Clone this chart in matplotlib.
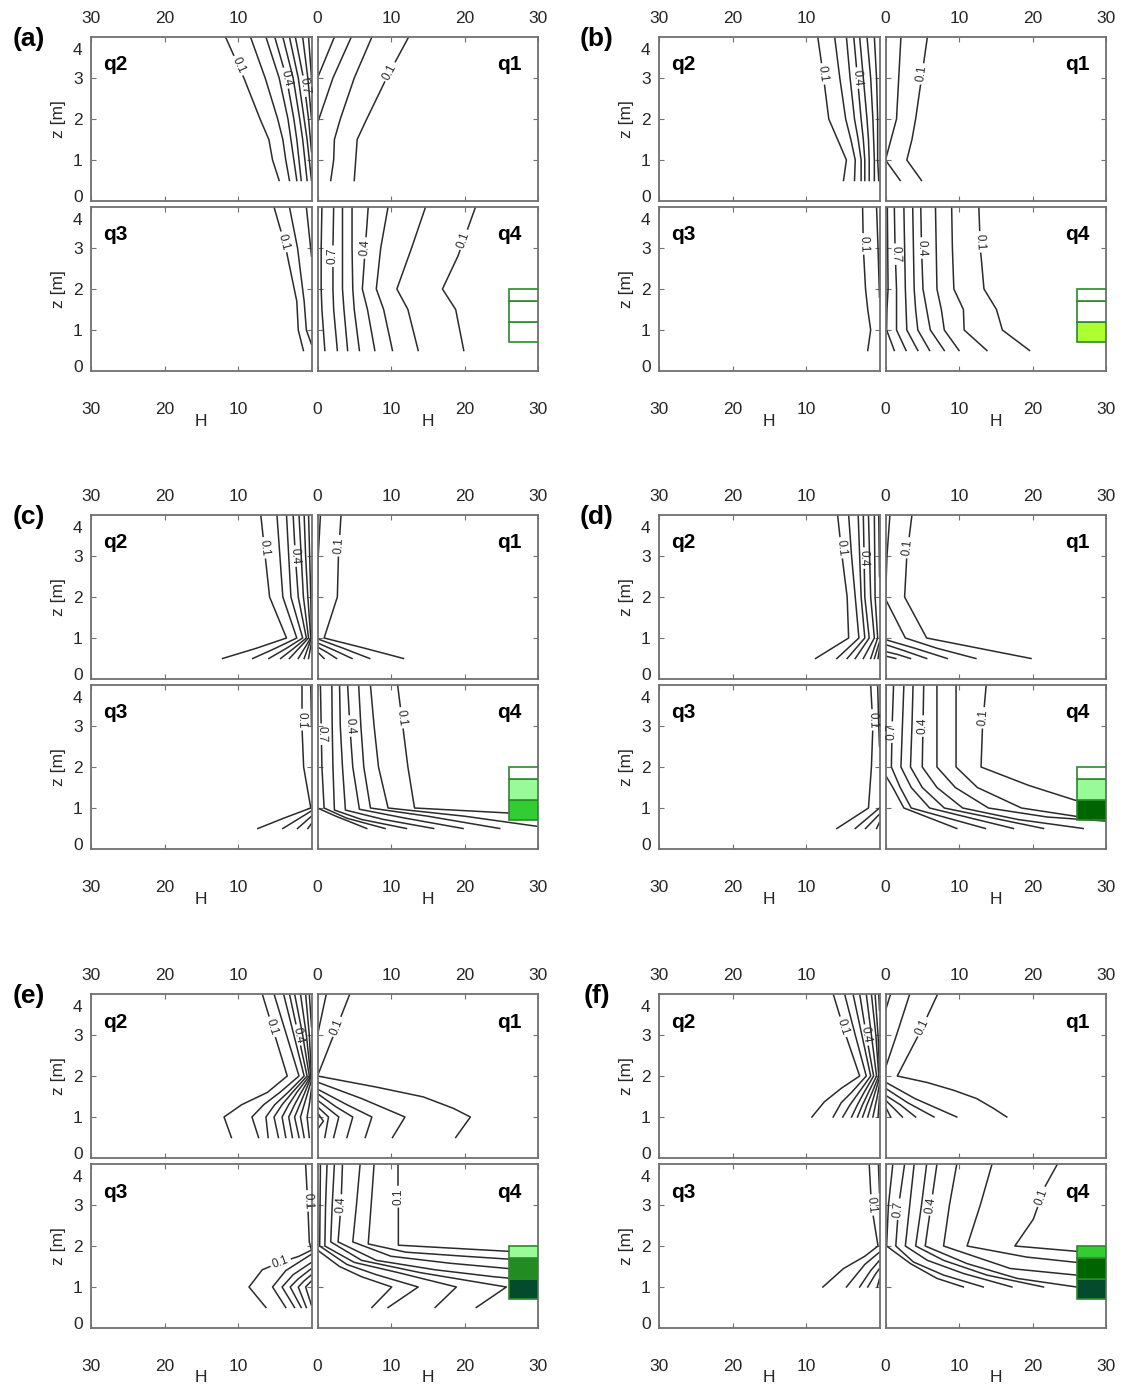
import numpy as np
import matplotlib
matplotlib.use("Agg")
import matplotlib.pyplot as plt
from matplotlib.patches import Rectangle

plt.rcParams['font.family'] = ['Liberation Sans', 'DejaVu Sans']

# contour lines of each quadrant, as (H, z) vertices
# levels go 0.1 (outermost) ... 0.9 (innermost)

# ---- panel (a)
A_Q2 = [
    [(11.7, 4), (9.2, 3), (7.0, 2), (5.8, 1.5), (5.3, 1), (4.4, 0.5)],
    [(8.3, 4), (6.3, 3), (4.6, 2), (3.9, 1.5), (3.5, 1), (3.0, 0.5)],
    [(6.2, 4), (4.4, 3), (3.2, 2), (2.8, 1.5), (2.4, 1), (2.0, 0.5)],
    [(5.0, 4), (3.4, 3), (2.4, 2), (2.0, 1.5), (1.7, 1), (1.4, 0.5)],
    [(3.9, 4), (2.5, 3), (1.6, 2), (1.2, 1.5), (0.9, 1), (0.6, 0.5)],
    [(3.0, 4), (1.8, 3), (1.0, 2), (0.6, 1.5), (0.3, 1), (0.0, 0.5)],
    [(2.2, 4), (1.1, 3), (0.4, 2), (0.0, 1.2)],
    [(1.2, 4), (0.5, 3), (0.0, 2)],
    [(0.4, 4), (0.0, 3)],
]
A_Q1 = [
    [(12.4, 4), (9.4, 3), (6.7, 2), (5.4, 1.5), (5.2, 1), (5.0, 0.5)],
    [(7.4, 4), (5.0, 3), (3.1, 2), (2.3, 1.5), (2.2, 1), (1.8, 0.5)],
    [(4.6, 4), (2.1, 3), (0.0, 1.9)],
    [(2.3, 4), (0.0, 3.0)],
]
A_Q3 = [
    [(5.1, 4), (3.5, 3), (2.0, 1.7), (1.8, 1.0), (1.1, 0.5)],
    [(3.0, 4), (1.9, 3), (1.0, 1.7), (0.7, 1.0), (0.0, 0.65)],
    [(0.7, 4), (0.0, 2.8)],
]
A_Q4 = [
    [(21.5, 4), (20.3, 3.4), (19.1, 2.8), (17.0, 2), (18.8, 1.5), (19.9, 0.5)],
    [(14.7, 4), (12.8, 3), (10.8, 2), (12.3, 1.5), (13.7, 0.5)],
    [(9.6, 4), (8.6, 3), (8.0, 2), (9.0, 1.5), (10.2, 0.5)],
    [(6.9, 4), (6.5, 3), (6.1, 2), (6.8, 1.5), (7.8, 0.5)],
    [(4.7, 4), (4.7, 3), (4.8, 2), (5.0, 1.5), (5.7, 0.5)],
    [(3.4, 4), (3.4, 3), (3.4, 2), (3.6, 1.5), (4.1, 0.5)],
    [(2.2, 4), (2.1, 3), (2.1, 2), (2.2, 1.5), (2.7, 0.5)],
    [(0.6, 4), (0.5, 3), (0.5, 2), (0.6, 1.5), (1.0, 0.5)],
]
LAB_A = {'q2': [(0, '0.1', 3.3), (3, '0.4', 3.0), (6, '0.7', 2.8)],
         'q1': [(0, '0.1', 3.15)],
         'q3': [(0, '0.1', 3.15)],
         'q4': [(0, '0.1', 3.2), (3, '0.4', 3.0), (6, '0.7', 2.8)]}
BOX_A = ['white', 'white', 'white']

# ---- panel (b)
B_Q2 = [
    [(8.4, 4), (7.6, 3), (6.9, 2), (5.7, 1.5), (4.5, 1), (4.9, 0.5)],
    [(6.1, 4), (5.4, 3), (4.6, 2), (3.9, 1.5), (3.3, 1), (3.4, 0.5)],
    [(4.5, 4), (4.0, 3), (3.4, 2), (2.9, 1.5), (2.5, 1), (2.5, 0.5)],
    [(3.5, 4), (3.0, 3), (2.5, 2), (2.2, 1.5), (2.0, 1), (2.0, 0.5)],
    [(2.7, 4), (2.2, 3), (1.7, 2), (1.5, 1.5), (1.4, 1), (1.4, 0.5)],
    [(1.7, 4), (1.2, 3), (0.9, 2), (0.8, 1.5), (0.7, 1), (0.7, 0.5)],
    [(0.7, 4), (0.4, 3), (0.25, 2), (0.25, 1), (0.1, 0.5)],
]
B_Q1 = [
    [(5.7, 4), (4.9, 3), (4.1, 2), (3.6, 1.5), (2.9, 1), (4.9, 0.5)],
    [(2.1, 4), (1.8, 3), (1.5, 2), (0.6, 1.4), (0.0, 1), (2.0, 0.5)],
]
B_Q3 = [
    [(2.3, 4), (2.2, 3), (1.9, 2), (1.6, 1.5), (1.2, 1), (1.6, 0.5)],
    [(0.4, 4), (0.2, 3), (0.0, 1.8)],
]
B_Q4 = [
    [(12.7, 4), (12.9, 3), (13.4, 2), (15.1, 1.5), (15.9, 1), (19.6, 0.5)],
    [(9.0, 4), (9.1, 3), (9.3, 2), (10.6, 1.5), (10.7, 1), (13.8, 0.5)],
    [(6.8, 4), (6.9, 3), (7.0, 2), (7.6, 1.5), (8.0, 1), (10.0, 0.5)],
    [(4.8, 4), (4.9, 3), (5.1, 2), (5.6, 1.5), (6.1, 1), (8.0, 0.5)],
    [(3.7, 4), (3.8, 3), (3.9, 2), (4.1, 1.5), (4.4, 1), (6.0, 0.5)],
    [(2.5, 4), (2.6, 3), (2.7, 2), (2.8, 1.5), (2.9, 1), (4.4, 0.5)],
    [(1.2, 4), (1.3, 3), (1.5, 2), (1.5, 1.5), (1.5, 1), (2.8, 0.5)],
    [(0.25, 4), (0.3, 3), (0.35, 2), (0.2, 1.5), (0.15, 1), (1.2, 0.5)],
]
LAB_B = {'q2': [(0, '0.1', 3.1), (3, '0.4', 3.0)],
         'q1': [(0, '0.1', 3.1)],
         'q3': [(0, '0.1', 3.1)],
         'q4': [(0, '0.1', 3.15), (3, '0.4', 3.0), (6, '0.7', 2.85)]}
BOX_B = ['#adff2f', 'white', 'white']

# ---- panel (c)
C_Q2 = [
    [(6.9, 4), (6.3, 3), (5.7, 2), (3.4, 1), (7.5, 0.75), (12.1, 0.5)],
    [(4.7, 4), (4.3, 3), (3.9, 2), (2.0, 1), (4.9, 0.75), (8.0, 0.5)],
    [(3.4, 4), (3.1, 3), (2.8, 2), (1.2, 1), (3.4, 0.75), (5.8, 0.5)],
    [(2.5, 4), (2.2, 3), (1.8, 2), (0.7, 1), (2.4, 0.75), (4.2, 0.5)],
    [(1.7, 4), (1.4, 3), (1.1, 2), (0.4, 1), (3.0, 0.5)],
    [(1.0, 4), (0.8, 3), (0.5, 2), (0.1, 1), (1.8, 0.5)],
    [(0.4, 4), (0.25, 3), (0.1, 2), (0.0, 1), (1.0, 0.5)],
    [(0.0, 0.9), (0.4, 0.5)],
]
C_Q1 = [
    [(3.2, 4), (2.85, 3), (2.7, 2), (0.9, 1), (6.0, 0.77), (11.7, 0.5)],
    [(0.4, 4), (0.1, 3), (0.0, 2.2)],
    [(0.0, 0.98), (3.5, 0.75), (7.1, 0.5)],
    [(0.0, 0.88), (2.3, 0.7), (4.7, 0.5)],
    [(0.0, 0.78), (1.3, 0.65), (2.6, 0.5)],
    [(0.0, 0.66), (0.9, 0.5)],
]
C_Q3 = [
    [(1.3, 4), (1.3, 3), (1.07, 2), (0.1, 1), (3.8, 0.75), (7.3, 0.5)],
    [(0.1, 4), (0.0, 3)],
    [(0.0, 0.93), (3.9, 0.5)],
    [(0.0, 0.8), (1.9, 0.5)],
    [(0.0, 0.62), (0.5, 0.5)],
]
C_Q4 = [
    [(10.9, 4), (11.6, 3), (12.3, 2), (13.2, 1), (30, 0.84)],
    [(7.2, 4), (7.7, 3), (8.3, 2), (9.6, 1), (20, 0.8), (30, 0.55)],
    [(5.6, 4), (5.9, 3), (6.3, 2), (7.2, 1), (15, 0.8), (24.8, 0.5)],
    [(4.1, 4), (4.4, 3), (4.8, 2), (5.7, 0.97), (12, 0.75), (19.8, 0.5)],
    [(3.0, 4), (3.1, 3), (3.4, 2), (3.8, 0.95), (9, 0.72), (15.8, 0.5)],
    [(1.95, 4), (2.0, 3), (2.1, 2), (2.3, 0.95), (6, 0.72), (12.1, 0.5)],
    [(0.4, 4), (0.5, 3), (0.6, 2), (0.9, 1.0), (4, 0.75), (9.2, 0.5)],
    [(0.0, 1.0), (2.5, 0.8), (6.7, 0.5)],
]
LAB_C = {'q2': [(0, '0.1', 3.2), (3, '0.4', 3.0)],
         'q1': [(0, '0.1', 3.25)],
         'q3': [(0, '0.1', 3.15)],
         'q4': [(0, '0.1', 3.2), (3, '0.4', 3.0), (6, '0.7', 2.8)]}
BOX_C = ['#32cd32', '#98fb98', 'white']

# ---- panel (d)
D_Q2 = [
    [(5.7, 4), (5.1, 3), (4.4, 2), (4.2, 1), (8.7, 0.5)],
    [(4.2, 4), (3.8, 3), (3.3, 2), (2.8, 1), (5.8, 0.5)],
    [(2.9, 4), (2.7, 3), (2.5, 2), (2.0, 1), (4.4, 0.5)],
    [(2.2, 4), (2.1, 3), (2.0, 2), (1.4, 1), (3.3, 0.5)],
    [(1.5, 4), (1.35, 3), (1.2, 2), (0.7, 1), (2.2, 0.5)],
    [(0.7, 4), (0.65, 3), (0.6, 2), (0.25, 1), (1.2, 0.5)],
    [(0.1, 4), (0.0, 2.5)],
    [(0.0, 0.9), (0.7, 0.5)],
    [(0.0, 0.75), (0.2, 0.5)],
]
D_Q1 = [
    [(3.6, 4), (2.9, 3), (2.6, 2), (5.6, 1), (14.4, 0.69), (19.8, 0.5)],
    [(0.6, 4), (0.2, 3), (0.0, 1.95), (2.7, 1.0), (7.0, 0.75), (12.3, 0.5)],
    [(0.0, 0.96), (4.0, 0.75), (8.4, 0.5)],
    [(0.0, 0.84), (2.7, 0.68), (5.6, 0.5)],
    [(0.0, 0.67), (1.6, 0.6), (3.4, 0.5)],
    [(0.0, 0.56), (1.4, 0.5)],
]
D_Q3 = [
    [(1.2, 4), (0.9, 3), (1.1, 2), (1.5, 1), (5.8, 0.5)],
    [(0.25, 4), (0.1, 3), (0.0, 2.5)],
    [(0.0, 1.0), (3.3, 0.5)],
    [(0.0, 0.85), (1.9, 0.5)],
    [(0.0, 0.65), (0.4, 0.5)],
]
D_Q4 = [
    [(13.7, 4), (13.2, 3), (13.0, 2), (19.5, 1.55), (25.8, 1.19), (30, 1.05)],
    [(9.6, 4), (9.6, 3), (9.6, 2), (12.5, 1.5), (18.5, 1.0), (25.8, 0.8), (30, 0.72)],
    [(7.0, 4), (7.0, 3), (7.0, 2), (9.5, 1.5), (14, 1.0), (22, 0.78), (30, 0.68)],
    [(5.2, 4), (5.1, 3), (5.0, 2), (7.0, 1.5), (10.5, 1.0), (18, 0.72), (26.9, 0.5)],
    [(3.75, 4), (3.6, 3), (3.4, 2), (5.0, 1.5), (8.0, 1.0), (21.5, 0.5)],
    [(2.5, 4), (2.3, 3), (2.1, 2), (3.5, 1.5), (6.0, 1.0), (17.4, 0.5)],
    [(1.1, 4), (0.9, 3), (0.8, 2), (2.0, 1.5), (3.5, 1.0), (13.6, 0.5)],
    [(0.1, 4), (0.0, 2.6)],
    [(0.0, 1.8), (1.0, 1.5), (2.5, 1.0), (9.7, 0.5)],
]
LAB_D = {'q2': [(0, '0.1', 3.2), (3, '0.4', 2.95)],
         'q1': [(0, '0.1', 3.2)],
         'q3': [(0, '0.1', 3.15)],
         'q4': [(0, '0.1', 3.2), (3, '0.4', 3.0), (6, '0.7', 2.85)]}
BOX_D = ['#006400', '#98fb98', 'white']

# ---- panel (e)
E_Q2 = [
    [(6.7, 4), (5.0, 3), (3.3, 2.0), (6.0, 1.6), (9.5, 1.3), (11.9, 1.0), (10.9, 0.5)],
    [(5.1, 4), (3.4, 3), (1.7, 2.0), (4.3, 1.6), (6.5, 1.3), (8.1, 1.0), (7.2, 0.5)],
    [(3.8, 4), (2.4, 3), (1.0, 2.0), (3.2, 1.6), (5.0, 1.3), (6.2, 1.0), (5.9, 0.5)],
    [(3.0, 4), (1.8, 3), (0.6, 2.0), (2.6, 1.6), (4.0, 1.3), (5.1, 1.0), (4.5, 0.5)],
    [(2.3, 4), (1.2, 3), (0.3, 2.0), (2.0, 1.6), (3.1, 1.3), (4.0, 1.0), (3.5, 0.5)],
    [(1.5, 4), (0.7, 3), (0.1, 2.0), (1.4, 1.6), (2.3, 1.3), (3.1, 1.0), (2.6, 0.5)],
    [(0.8, 4), (0.3, 3), (0.0, 2.0), (0.9, 1.6), (1.6, 1.3), (2.3, 1.0), (1.7, 0.5)],
    [(0.3, 4), (0.0, 3.2)],
    [(0.0, 1.9), (0.5, 1.6), (1.0, 1.3), (1.5, 1.0), (1.0, 0.5)],
    [(0.0, 1.7), (0.3, 1.3), (0.6, 1.0), (0.3, 0.5)],
]
E_Q1 = [
    [(4.4, 4), (2.2, 3), (0.0, 2.0)],
    [(1.2, 4), (0.0, 3.0)],
    [(0.0, 2.0), (8.0, 1.73), (14.4, 1.49), (18.5, 1.21), (20.8, 1.0), (18.8, 0.5)],
    [(0.0, 1.85), (6.0, 1.45), (11.9, 1.0), (10.2, 0.5)],
    [(0.0, 1.68), (4.0, 1.3), (7.4, 1.0), (6.5, 0.5)],
    [(0.0, 1.57), (2.5, 1.25), (4.8, 1.0), (4.0, 0.5)],
    [(0.0, 1.41), (1.5, 1.2), (2.9, 1.0), (2.2, 0.5)],
    [(0.0, 1.25), (1.5, 1.0), (1.0, 0.5)],
    [(0.0, 1.1), (0.8, 0.9), (0.0, 0.7)],
]
E_Q3 = [
    [(0.8, 4), (0.5, 3), (0.3, 2.1), (0.0, 1.9)],
    [(0.0, 1.9), (1.7, 1.75), (4.7, 1.57), (6.7, 1.42), (8.5, 1.0), (6.2, 0.5)],
    [(0.0, 1.8), (3.5, 1.4), (5.3, 1.0), (3.5, 0.5)],
    [(0.0, 1.6), (2.5, 1.3), (4.0, 1.0), (2.3, 0.5)],
    [(0.0, 1.45), (1.8, 1.2), (2.9, 1.0), (1.4, 0.5)],
    [(0.0, 1.3), (1.0, 1.15), (1.8, 1.0), (0.7, 0.5)],
    [(0.0, 1.15), (0.8, 1.0), (0.0, 0.55)],
]
E_Q4 = [
    [(11.0, 4), (11.0, 3), (11.0, 2.02), (20, 1.93), (26, 1.87), (30, 1.85)],
    [(7.7, 4), (7.3, 3), (6.9, 2.05), (12, 1.85), (20, 1.75), (26, 1.68), (30, 1.65)],
    [(5.8, 4), (5.3, 3), (4.8, 2.1), (10, 1.75), (18, 1.58), (26, 1.45), (30, 1.4)],
    [(3.4, 4), (3.2, 3), (2.8, 2.1), (8, 1.65), (16, 1.42), (24, 1.25), (30, 1.15)],
    [(2.3, 4), (2.0, 3), (1.8, 2.1), (6, 1.65), (14, 1.35), (25.7, 1.0), (21.6, 0.5)],
    [(1.3, 4), (1.1, 3), (1.0, 2.0), (5, 1.6), (11, 1.35), (18.9, 1.0), (16.0, 0.5)],
    [(0.4, 4), (0.35, 3), (0.3, 2.0), (4, 1.55), (8, 1.3), (13.7, 1.0), (9.6, 0.5)],
    [(0.0, 1.9), (3, 1.5), (6, 1.25), (10.1, 1.0), (7.4, 0.5)],
]
LAB_E = {'q2': [(0, '0.1', 3.2), (3, '0.4', 3.0)],
         'q1': [(0, '0.1', 3.2)],
         'q3': [(0, '0.1', 3.1), (1, '0.1', 1.6)],
         'q4': [(0, '0.1', 3.2), (3, '0.4', 3.0)]}
BOX_E = ['#044a2c', '#228b22', '#98fb98']

# ---- panel (f)
F_Q2 = [
    [(6.3, 4), (4.6, 3), (2.7, 2), (5.2, 1.7), (7.5, 1.37), (9.2, 1.0)],
    [(4.75, 4), (3.3, 3), (1.8, 2), (3.8, 1.6), (5.2, 1.35), (6.3, 1.0)],
    [(3.6, 4), (2.4, 3), (1.2, 2), (2.8, 1.6), (4.0, 1.3), (5.0, 1.0)],
    [(2.7, 4), (1.8, 3), (0.8, 2), (2.1, 1.6), (3.0, 1.3), (3.8, 1.0)],
    [(1.8, 4), (1.1, 3), (0.4, 2), (1.5, 1.6), (2.3, 1.3), (3.0, 1.0)],
    [(1.1, 4), (0.5, 3), (0.1, 2), (1.0, 1.6), (1.7, 1.3), (2.3, 1.0)],
    [(0.6, 4), (0.2, 3), (0.0, 2.1)],
    [(0.0, 1.95), (0.6, 1.6), (1.1, 1.3), (1.6, 1.0)],
    [(0.1, 4), (0.0, 3.6)],
    [(0.0, 1.8), (0.3, 1.5), (0.9, 1.0)],
    [(0.0, 1.5), (0.2, 1.0)],
]
F_Q1 = [
    [(7.1, 4), (4.5, 3), (1.6, 2), (5.7, 1.84), (9.3, 1.65), (12.4, 1.45), (14.7, 1.21), (16.5, 1.0)],
    [(3.3, 4), (1.5, 3), (0.0, 2.2)],
    [(0.7, 4), (0.0, 3.6)],
    [(0.0, 1.85), (4.0, 1.45), (9.7, 1.0)],
    [(0.0, 1.7), (3.0, 1.35), (6.6, 1.0)],
    [(0.0, 1.53), (2.0, 1.3), (4.1, 1.0)],
    [(0.0, 1.41), (1.2, 1.2), (2.3, 1.0)],
    [(0.0, 1.25), (0.7, 1.0)],
]
F_Q3 = [
    [(1.4, 4), (1.1, 3), (0.2, 2.0), (2.0, 1.75), (4.9, 1.45), (7.7, 1.0)],
    [(0.15, 4), (0.0, 3.3)],
    [(0.0, 1.85), (2.0, 1.55), (4.5, 1.0)],
    [(0.0, 1.65), (1.2, 1.4), (2.7, 1.0)],
    [(0.0, 1.45), (0.6, 1.3), (1.6, 1.0)],
    [(0.0, 1.2), (0.3, 1.0)],
]
F_Q4 = [
    [(23.4, 4), (21.7, 3.45), (20.1, 2.65), (17.6, 2.0), (26, 1.87), (30, 1.85)],
    [(14.5, 4), (12.9, 3), (11.1, 2), (19.2, 1.73), (26, 1.6), (30, 1.55)],
    [(9.7, 4), (8.7, 3), (7.9, 2), (17, 1.45), (26, 1.29), (30, 1.25)],
    [(7.0, 4), (6.2, 3), (5.4, 2), (11.1, 1.57), (17.9, 1.21), (26, 1.0), (30, 0.98)],
    [(5.6, 4), (4.9, 3), (4.1, 2), (7.9, 1.65), (13.8, 1.29), (21.5, 1.0)],
    [(3.9, 4), (3.3, 3), (2.7, 2), (5.7, 1.65), (10.6, 1.33), (17.2, 1.0)],
    [(2.6, 4), (1.8, 3), (1.4, 2), (3.8, 1.61), (7.9, 1.29), (13.3, 1.0)],
    [(1.0, 4), (0.4, 3), (0.15, 2), (3.4, 1.57), (7.0, 1.21), (10.6, 1.0)],
]
LAB_F = {'q2': [(0, '0.1', 3.2), (3, '0.4', 3.0)],
         'q1': [(0, '0.1', 3.2)],
         'q3': [(0, '0.1', 3.0)],
         'q4': [(0, '0.1', 3.2), (3, '0.4', 3.0), (6, '0.7', 2.9)]}
BOX_F = ['#044a2c', '#006400', '#32cd32']

# green sampler boxes in q4
BOX_H = [26, 30]
BOX_Z = [0.7, 1.2, 1.7, 2.0]

PANELS = [
    ('(a)', {'q2': A_Q2, 'q1': A_Q1, 'q3': A_Q3, 'q4': A_Q4}, LAB_A, BOX_A),
    ('(b)', {'q2': B_Q2, 'q1': B_Q1, 'q3': B_Q3, 'q4': B_Q4}, LAB_B, BOX_B),
    ('(c)', {'q2': C_Q2, 'q1': C_Q1, 'q3': C_Q3, 'q4': C_Q4}, LAB_C, BOX_C),
    ('(d)', {'q2': D_Q2, 'q1': D_Q1, 'q3': D_Q3, 'q4': D_Q4}, LAB_D, BOX_D),
    ('(e)', {'q2': E_Q2, 'q1': E_Q1, 'q3': E_Q3, 'q4': E_Q4}, LAB_E, BOX_E),
    ('(f)', {'q2': F_Q2, 'q1': F_Q1, 'q3': F_Q3, 'q4': F_Q4}, LAB_F, BOX_F),
]

FW, FH = 1124, 1387
LINE_C = '#2b2b2b'
SPINE_C = '#707070'
TICK_C = '#262626'
AX_W, AX_H, GAP = 220.5, 164, 6
COL_X = [91, 659]
ROW_Y = [37, 515, 994]


def draw_line(ax, line, label=None):
    pts = np.array(line, dtype=float)
    if label is None:
        ax.plot(pts[:, 0], pts[:, 1], color=LINE_C, lw=1.1, zorder=2)
        return
    text, zl = label
    if pts[0, 1] < pts[-1, 1]:
        pts = pts[::-1]
    disp = ax.transData.transform(pts)
    s = np.r_[0, np.cumsum(np.hypot(*np.diff(disp, axis=0).T))]
    s0 = np.interp(zl, pts[::-1, 1], s[::-1])
    g = 11.5

    def at(v):
        return np.array([np.interp(v, s, disp[:, 0]), np.interp(v, s, disp[:, 1])])

    a, b = at(s0 - g), at(s0 + g)
    inv = ax.transData.inverted()
    for part in (np.vstack([disp[s < s0 - g], a]), np.vstack([b, disp[s > s0 + g]])):
        d = inv.transform(part)
        ax.plot(d[:, 0], d[:, 1], color=LINE_C, lw=1.1, zorder=2)
    ang = np.degrees(np.arctan2(b[1] - a[1], b[0] - a[0]))
    if ang > 90:
        ang -= 180
    if ang <= -90:
        ang += 180
    c = inv.transform(at(s0))
    ax.text(c[0], c[1], text, rotation=ang, rotation_mode='anchor',
            ha='center', va='center', fontsize=8.5, color=LINE_C, zorder=4)


fig = plt.figure(figsize=(FW / 100, FH / 100), dpi=100)

for p, (tag, quads, labs, box) in enumerate(PANELS):
    x0 = COL_X[p % 2]
    y0 = ROW_Y[p // 2]
    fig.text((x0 - 62) / FW, 1 - (y0 + 2) / FH, tag, ha='center', va='center',
             fontsize=19, fontweight='bold')
    for name, (r, c) in {'q2': (0, 0), 'q1': (0, 1), 'q3': (1, 0), 'q4': (1, 1)}.items():
        left = x0 + c * (AX_W + GAP)
        top = y0 + r * (AX_H + GAP)
        ax = fig.add_axes([left / FW, 1 - (top + AX_H) / FH, AX_W / FW, AX_H / FH])
        if c == 0:
            ax.set_xlim(30, 0)
            ax.set_xticks([10, 20, 30])
        else:
            ax.set_xlim(0, 30)
            ax.set_xticks([0, 10, 20, 30])
        ax.set_ylim(0, 4)
        ax.set_yticks([1, 2, 3])
        for sp in ax.spines.values():
            sp.set_color(SPINE_C)
            sp.set_linewidth(1.3)
        ax.tick_params(which='major', direction='in', length=3.5, width=0.8,
                       color=SPINE_C, top=True, right=True,
                       labelsize=12.5, labelcolor=TICK_C)
        if r == 0:
            ax.tick_params(axis='x', labeltop=True, labelbottom=False, pad=8)
        else:
            ax.tick_params(axis='x', labeltop=False, labelbottom=True, pad=22)
            ax.text(0.5, -50 / AX_H, 'H', transform=ax.transAxes, ha='center',
                    va='center', fontsize=12.5, color=TICK_C)
        if c == 0:
            ax.set_yticks([0.12, 3.7], ['0', '4'], minor=True)
            ax.tick_params(axis='y', which='minor', length=0, labelsize=12.5,
                           labelcolor=TICK_C, pad=6)
            ax.tick_params(axis='y', which='major', pad=6)
            ax.text(-32 / AX_W, 0.5, 'z [m]', transform=ax.transAxes, rotation=90,
                    ha='center', va='center', fontsize=12.5, color=TICK_C)
        else:
            ax.tick_params(axis='y', labelleft=False)
        if c == 0:
            ax.text(12 / AX_W, 1 - 28 / AX_H, name, transform=ax.transAxes,
                    ha='left', va='center', fontsize=15, fontweight='bold')
        else:
            ax.text(1 - 16 / AX_W, 1 - 28 / AX_H, name, transform=ax.transAxes,
                    ha='right', va='center', fontsize=15, fontweight='bold')

        lab = {i: (t, z) for i, t, z in labs[name]}
        for i, line in enumerate(quads[name]):
            draw_line(ax, line, lab.get(i))

        if name == 'q4':
            for k in range(3):
                ax.add_patch(Rectangle((BOX_H[0], BOX_Z[k]), BOX_H[1] - BOX_H[0],
                                       BOX_Z[k + 1] - BOX_Z[k], facecolor=box[k],
                                       edgecolor='#2a8a2a', lw=1.2, zorder=3))

fig.savefig('out.png', dpi=100)
